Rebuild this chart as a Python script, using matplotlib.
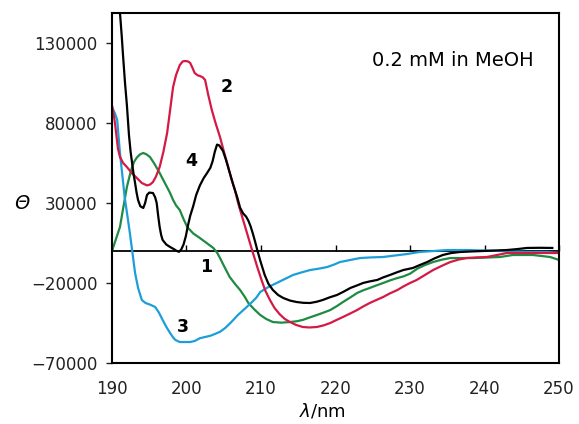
import matplotlib
matplotlib.use("Agg")
import matplotlib.pyplot as plt

plt.rcParams['font.family'] = ['DejaVu Sans']
plt.rcParams['mathtext.fontset'] = 'custom'
plt.rcParams['mathtext.rm'] = 'DejaVu Sans'
plt.rcParams['mathtext.it'] = 'DejaVu Sans:italic'

# curve 4 (black)
wl_4 = [190.6, 191.07, 191.3, 191.48, 191.75, 192.0, 192.28, 192.5, 192.7, 192.9, 193.1, 193.3,
        193.5, 193.8, 194.2, 194.45, 194.7, 195.0, 195.5, 195.8, 196.0, 196.2, 196.4, 196.6,
        196.8, 197.3, 197.8, 198.3, 198.7, 199.0, 199.3, 199.6, 199.9, 200.2, 200.5, 200.9,
        201.3, 201.8, 202.3, 202.8, 203.2, 203.5, 203.8, 204.1, 204.4, 204.9, 205.3, 205.8,
        206.3, 206.8, 207.2, 207.6, 208.0, 208.3, 208.6, 208.9, 209.2, 209.5, 209.9, 210.5,
        211.0, 211.6, 212.3, 213.0, 213.9, 214.8, 215.7, 216.6, 217.5, 218.3, 219.2, 220.2,
        221.1, 222.0, 222.9, 223.7, 224.6, 225.6, 226.4, 227.3, 228.2, 229.1, 230.4, 231.3,
        232.3, 233.3, 234.4, 235.5, 236.7, 238.2, 239.8, 241.4, 243.0, 244.4, 245.7, 247.4,
        249.1]
th_4 = [175000, 149000, 135000, 122500, 105000, 91250, 72500, 62000, 55000, 48000, 42500, 36500,
        31875, 28000, 26875, 30000, 35000, 36500, 36250, 33500, 30000, 22000, 15000, 10000,
        6875, 4000, 2500, 1200, 0, -500, 1000, 4000, 9000, 16000, 22000, 28000,
        35000, 41000, 45500, 49000, 52000, 56000, 62000, 66500, 66000, 62500, 57000, 49000,
        41000, 33750, 27000, 23500, 21500, 19000, 15500, 11000, 6000, 625, -6000, -15000,
        -20500, -24400, -27500, -29400, -31000, -31900, -32400, -32500, -31700, -30600, -29000, -27500,
        -25400, -23100, -21500, -20000, -19000, -18100, -16500, -15000, -13400, -11900, -10600, -8800,
        -6900, -4600, -2500, -1300, -625, -300, 0, 300, 600, 1200, 1900, 2000,
        1900]

# curve 2 (red)
wl_2 = [190.0, 190.2, 190.4, 190.6, 190.8, 191.07, 191.5, 192.0, 192.7, 193.35, 194.0, 194.7,
        195.1, 195.5, 195.9, 196.4, 196.9, 197.4, 197.8, 198.2, 198.6, 199.1, 199.5, 199.8,
        200.2, 200.5, 200.8, 201.1, 201.5, 201.8, 202.2, 202.5, 202.9, 203.4, 203.9, 204.5,
        205.0, 205.6, 206.0, 206.5, 206.9, 207.2, 207.6, 208.2, 208.8, 209.5, 210.1, 210.6,
        211.2, 211.8, 212.5, 213.2, 213.9, 214.7, 215.6, 216.5, 217.5, 218.4, 219.3, 220.1,
        221.0, 222.0, 222.9, 223.7, 224.6, 225.5, 226.4, 227.3, 228.3, 229.1, 230.0, 230.9,
        232.0, 233.1, 234.3, 235.4, 236.5, 237.6, 239.0, 240.3, 241.7, 243.0, 245.7, 247.9,
        250.0]
th_2 = [91000, 86000, 80000, 72000, 64000, 58750, 55000, 52500, 48500, 45600, 42500, 41000,
        41500, 43100, 46500, 52500, 62000, 73750, 88000, 102500, 110000, 116250, 118500, 118750,
        118500, 117500, 114500, 111250, 109800, 109400, 108500, 106900, 98000, 88100, 80000, 71250,
        62500, 52500, 45500, 38100, 30500, 25600, 19400, 10000, 600, -10000, -18500, -25000,
        -30600, -35500, -39500, -42500, -44400, -46200, -47500, -47800, -47500, -46500, -45000, -43200,
        -41250, -39000, -36900, -34700, -32500, -30600, -28750, -26500, -24400, -22200, -20000, -18100,
        -15000, -11900, -9200, -6900, -5400, -4400, -4000, -3750, -2500, -1250, -1250, -1250,
        -1250]

# curve 1 (green)
wl_1 = [190.0, 190.5, 191.07, 191.4, 191.7, 192.0, 192.4, 192.7, 193.0, 193.35, 193.8, 194.2,
        194.6, 195.1, 195.7, 196.4, 197.1, 197.8, 198.2, 198.6, 199.1, 199.6, 200.1, 200.9,
        201.8, 202.7, 203.6, 204.1, 204.5, 205.1, 205.8, 206.5, 207.2, 207.8, 208.3, 209.1,
        209.9, 210.7, 211.6, 212.7, 213.9, 214.8, 215.6, 216.5, 217.5, 218.4, 219.3, 220.2,
        221.0, 222.0, 222.9, 223.7, 224.6, 225.5, 226.4, 227.3, 228.3, 229.1, 230.0, 231.0,
        232.0, 233.1, 234.2, 235.4, 237.0, 238.5, 240.3, 242.1, 243.8, 246.5, 248.8, 250.0]
th_1 = [0, 7000, 15000, 24000, 31900, 40000, 47500, 52500, 56000, 58500, 60500, 61250,
        60500, 58750, 54500, 48750, 42500, 36250, 31900, 28500, 25600, 20000, 15000, 11000,
        8100, 5000, 1900, -1000, -4400, -10000, -16250, -20500, -24400, -28500, -32500, -36500,
        -40000, -42500, -44400, -44800, -44400, -43900, -43100, -41600, -40000, -38500, -36900, -34400,
        -31900, -29000, -26250, -24600, -23100, -21500, -20000, -18400, -16900, -15900, -14200, -11000,
        -8800, -6900, -5500, -4400, -4400, -4400, -4100, -3750, -2500, -2500, -3750, -5600]

# curve 3 (blue)
wl_3 = [190.0, 190.4, 190.7, 191.07, 191.4, 191.7, 192.1, 192.4, 192.7, 193.1, 193.5, 194.0,
        194.5, 195.1, 195.8, 196.3, 196.8, 197.3, 197.8, 198.2, 198.5, 199.1, 199.8, 200.5,
        201.1, 201.8, 202.5, 203.2, 203.8, 204.5, 205.2, 206.0, 206.9, 207.9, 208.8, 209.4,
        209.9, 211.0, 212.1, 213.2, 214.3, 215.5, 216.6, 217.8, 218.9, 219.8, 220.6, 222.0,
        223.3, 224.8, 226.4, 228.0, 229.6, 231.3, 233.2, 235.0, 237.6, 240.0, 242.1, 245.7,
        248.4, 250.0]
th_3 = [90000, 86000, 81900, 61250, 47000, 33750, 21000, 11250, 600, -13750, -23000, -30600,
        -32500, -33500, -35000, -38500, -43100, -47500, -51250, -54000, -55600, -56900, -56900, -56900,
        -56250, -54500, -53750, -53000, -51900, -50500, -48100, -44500, -40000, -35800, -31900, -29000,
        -25600, -22500, -20000, -17500, -15000, -13300, -11900, -11000, -10000, -8500, -6900, -5600,
        -4400, -4000, -3750, -2800, -1900, -600, 0, 600, 600, 300, 0, -600,
        -600, -1250]

x_ticks = [190, 200, 210, 220, 230, 240, 250]
y_ticks = [-70000, -20000, 30000, 80000, 130000]
y_min, y_max = -70000, 148750

fig = plt.figure(figsize=(5.79, 4.24), dpi=100)
ax = fig.add_axes([0.1934, 0.1439, 0.7721, 0.8254])

ax.plot(wl_1, th_1, color='#1f8a42', lw=1.6)
ax.plot(wl_3, th_3, color='#1c9fd8', lw=1.6)
ax.plot(wl_2, th_2, color='#d31a45', lw=1.6)
ax.plot(wl_4, th_4, color='black', lw=1.6)

ax.set_xlim(190, 250)
ax.set_ylim(y_min, y_max)
ax.set_xticks(x_ticks)
ax.set_yticks(y_ticks)
ax.set_yticklabels([f"{v}".replace('-', '\u2212') for v in y_ticks])
ax.tick_params(axis='y', direction='out', length=4.5, width=1, pad=6, labelsize=12, colors='#222222')
ax.tick_params(axis='x', length=0, pad=12, labelsize=12, colors='#222222')
for sp in ax.spines.values():
    sp.set_linewidth(1.5)

# zero line with its own ticks
zero_ax = ax.secondary_xaxis((0 - y_min) / (y_max - y_min))
zero_ax.set_xticks(x_ticks)
zero_ax.tick_params(direction='in', length=4, width=1, labelbottom=False)
zero_ax.spines['bottom'].set_linewidth(1.3)

ax.set_xlabel(r'$\mathit{\lambda}$/nm', fontsize=13)
ax.xaxis.set_label_coords(0.47, -0.11)
ax.set_ylabel('\u0398', fontsize=14, style='italic', rotation=0, va='center')
ax.yaxis.set_label_coords(-0.2, 0.457)

ax.text(0.582, 0.863, '0.2 mM in MeOH', transform=ax.transAxes, fontsize=14, va='center')
for lbl, x, y in [('1', 202.7, -10000), ('2', 205.4, 102500), ('3', 199.5, -47500), ('4', 200.7, 56250)]:
    ax.text(x, y, lbl, fontsize=12.5, fontweight='bold', ha='center', va='center')

fig.savefig('out.png', dpi=100)
